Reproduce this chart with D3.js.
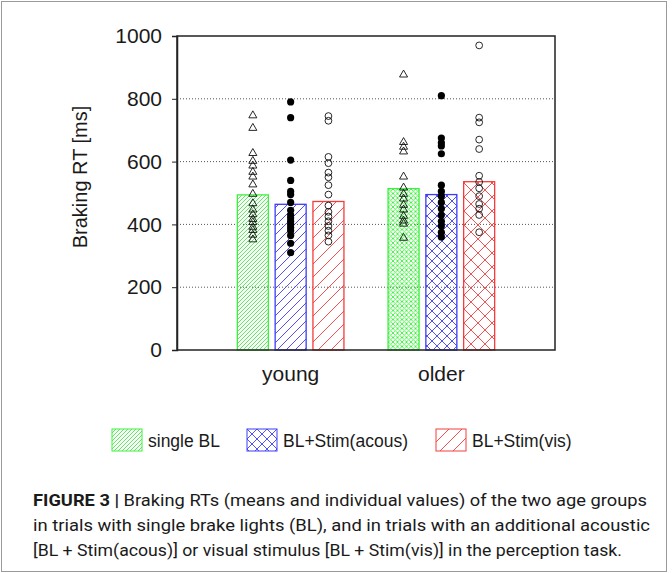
<!DOCTYPE html>
<html>
<head>
<meta charset="utf-8">
<script src="https://cdn.jsdelivr.net/npm/d3@7"></script>
<style>
  body { margin: 0; background: #fff; }
  text { font-family: "Liberation Sans", Arial, sans-serif; fill: #1a1a1a; }
</style>
</head>
<body>
<div id="chart"></div>
<script>
let svgWidth = 672;
let svgHeight = 573;

// plot frame
let margin = { top: 36, right: 117, bottom: 223, left: 177 };
let width = svgWidth - margin.left - margin.right;
let height = svgHeight - margin.top - margin.bottom;

// data
let groups = ['young', 'older'];
let conditions = ['single BL', 'BL+Stim(acous)', 'BL+Stim(vis)'];
let yTicks = [0, 200, 400, 600, 800, 1000];

// mean braking RT per group, in condition order
let meansYoung = [494, 464, 473];
let meansOlder = [514, 495, 536];

// individual values
let youngSingle = [750, 710, 630, 605, 590, 570, 555, 530, 500, 470, 450, 435, 420, 410, 395, 385, 370, 355];
let youngAcous = [790, 740, 605, 540, 505, 495, 470, 445, 430, 420, 410, 400, 390, 380, 365, 340, 310];
let youngVis = [745, 730, 615, 595, 565, 550, 525, 495, 460, 440, 425, 410, 395, 380, 365, 345];
let olderSingle = [880, 665, 650, 635, 555, 520, 500, 485, 465, 450, 430, 415, 405, 360];
let olderAcous = [810, 675, 660, 650, 625, 525, 505, 490, 470, 450, 430, 410, 395, 375, 360];
let olderVis = [970, 740, 725, 670, 640, 555, 535, 515, 490, 465, 450, 430, 375];

let colors = ['#3df03d', '#3c3cf5', '#f53c3c'];

let svg = d3.select('#chart')
    .append('svg')
    .attr('width', svgWidth)
    .attr('height', svgHeight);

// hatch patterns
let defs = svg.append('defs');
function hatch(id, color, s, cross) {
    let p = defs.append('pattern')
        .attr('id', id)
        .attr('patternUnits', 'userSpaceOnUse')
        .attr('width', s)
        .attr('height', s);
    let d = `M-1,1 l2,-2 M0,${s} l${s},${-s} M${s - 1},${s + 1} l2,-2`;
    if (cross) d += ` M-1,${s - 1} l2,2 M0,0 l${s},${s} M${s - 1},-1 l2,2`;
    p.append('path')
        .attr('d', d)
        .attr('stroke', color)
        .attr('stroke-width', 0.9)
        .attr('fill', 'none');
}
hatch('diag0', colors[0], 4, false);
hatch('diag1', colors[1], 9, false);
hatch('diag2', colors[2], 13, false);
hatch('cross0', colors[0], 4.5, true);
hatch('cross1', colors[1], 10, true);
hatch('cross2', colors[2], 14, true);

// figure box
svg.append('rect')
    .attr('x', 1.5).attr('y', 1.5)
    .attr('width', 665).attr('height', 570)
    .attr('fill', 'none')
    .attr('stroke', '#9a9a9a')
    .attr('stroke-width', 1);

let chartGroup = svg.append('g')
    .attr('transform', `translate(${margin.left}, ${margin.top})`);

let xScale = d3.scalePoint()
    .domain(groups)
    .range([0, width])
    .padding(0.754);

let innerScale = d3.scaleBand()
    .domain(conditions)
    .range([-53.3, 53.3])
    .paddingInner(0.18);

let yScale = d3.scaleLinear()
    .domain([0, 1000])
    .range([height, 0]);

// dotted gridlines
chartGroup.selectAll('.grid')
    .data(yTicks.filter(t => t > 0 && t < 1000))
    .enter()
    .append('line')
    .attr('x1', 0)
    .attr('x2', width)
    .attr('y1', d => yScale(d))
    .attr('y2', d => yScale(d))
    .attr('stroke', '#555')
    .attr('stroke-width', 1)
    .attr('stroke-dasharray', '1,2');

// bars
let barData = [];
groups.forEach((g, gi) => {
    let means = gi === 0 ? meansYoung : meansOlder;
    conditions.forEach((c, ci) => {
        barData.push({ group: g, cond: c, ci: ci, value: means[ci], pat: (gi === 0 ? 'diag' : 'cross') + ci });
    });
});

chartGroup.selectAll('.bar')
    .data(barData)
    .enter()
    .append('rect')
    .attr('x', d => xScale(d.group) + innerScale(d.cond))
    .attr('y', d => yScale(d.value))
    .attr('width', innerScale.bandwidth())
    .attr('height', d => yScale(0) - yScale(d.value))
    .attr('fill', d => `url(#${d.pat})`)
    .attr('stroke', d => colors[d.ci])
    .attr('stroke-width', 1.3);

// individual points
let pointSets = [
    { group: 'young', ci: 0, vals: youngSingle },
    { group: 'young', ci: 1, vals: youngAcous },
    { group: 'young', ci: 2, vals: youngVis },
    { group: 'older', ci: 0, vals: olderSingle },
    { group: 'older', ci: 1, vals: olderAcous },
    { group: 'older', ci: 2, vals: olderVis }
];
let triangle = d3.symbol().type(d3.symbolTriangle).size(28);

pointSets.forEach(set => {
    let cx = xScale(set.group) + innerScale(conditions[set.ci]) + innerScale.bandwidth() / 2;
    let pts = chartGroup.selectAll(null)
        .data(set.vals)
        .enter();
    if (set.ci === 0) {
        pts.append('path')
            .attr('d', triangle)
            .attr('transform', d => `translate(${cx}, ${yScale(d) + 1})`)
            .attr('fill', 'none')
            .attr('stroke', '#111')
            .attr('stroke-width', 0.9);
    } else if (set.ci === 1) {
        pts.append('circle')
            .attr('cx', cx)
            .attr('cy', d => yScale(d))
            .attr('r', 3.6)
            .attr('fill', '#000');
    } else {
        pts.append('circle')
            .attr('cx', cx)
            .attr('cy', d => yScale(d))
            .attr('r', 3.4)
            .attr('fill', 'none')
            .attr('stroke', '#111')
            .attr('stroke-width', 0.9);
    }
});

// frame
chartGroup.append('rect')
    .attr('x', 0).attr('y', 0)
    .attr('width', width).attr('height', height)
    .attr('fill', 'none')
    .attr('stroke', '#222')
    .attr('stroke-width', 1.5);

// y axis
let yAxis = chartGroup.append('g')
    .call(d3.axisLeft(yScale).tickValues(yTicks).tickFormat(d3.format('d')).tickSize(5).tickPadding(10));
yAxis.select('.domain').attr('stroke', '#222').attr('stroke-width', 1.5);
yAxis.selectAll('.tick line').attr('stroke', '#222');
yAxis.selectAll('text')
    .style('font-size', '21px')
    .style('font-family', '"Liberation Sans", Arial, sans-serif')
    .attr('fill', '#1a1a1a');

// x labels
chartGroup.selectAll('.xlabel')
    .data(groups)
    .enter()
    .append('text')
    .attr('x', d => xScale(d))
    .attr('y', height + 31)
    .attr('text-anchor', 'middle')
    .style('font-size', '21px')
    .text(d => d);

// y label
svg.append('text')
    .attr('transform', 'rotate(-90)')
    .attr('x', -177)
    .attr('y', 87)
    .attr('text-anchor', 'middle')
    .style('font-size', '20px')
    .text('Braking RT [ms]');

// legend
let legendX = [112, 247, 436];
let legendPat = ['diag0', 'cross1', 'diag2'];
let legend = svg.selectAll('.legend')
    .data(conditions)
    .enter()
    .append('g')
    .attr('transform', (d, i) => `translate(${legendX[i]}, 429)`);

legend.append('rect')
    .attr('width', 30)
    .attr('height', 22)
    .attr('fill', (d, i) => `url(#${legendPat[i]})`)
    .attr('stroke', (d, i) => colors[i])
    .attr('stroke-width', 1);

legend.append('text')
    .attr('x', 36)
    .attr('y', 18)
    .style('font-size', '17.5px')
    .text(d => d);

// caption
let captionLines = [
    ['FIGURE 3 | ', 'Braking RTs (means and individual values) of the two age groups', 614],
    ['', 'in trials with single brake lights (BL), and in trials with an additional acoustic', 617],
    ['', '[BL + Stim(acous)] or visual stimulus [BL + Stim(vis)] in the perception task.', 589]
];
captionLines.forEach((ln, i) => {
    let t = svg.append('text')
        .attr('x', 33)
        .attr('y', 506 + i * 25)
        .attr('textLength', ln[2])
        .attr('lengthAdjust', 'spacingAndGlyphs')
        .style('font-size', '17px')
        .style('font-family', '"Roboto", "Liberation Sans", sans-serif');
    if (ln[0]) {
        t.append('tspan').style('font-weight', 'bold').text(ln[0]);
    }
    t.append('tspan').text(ln[1]);
});
</script>
</body>
</html>
